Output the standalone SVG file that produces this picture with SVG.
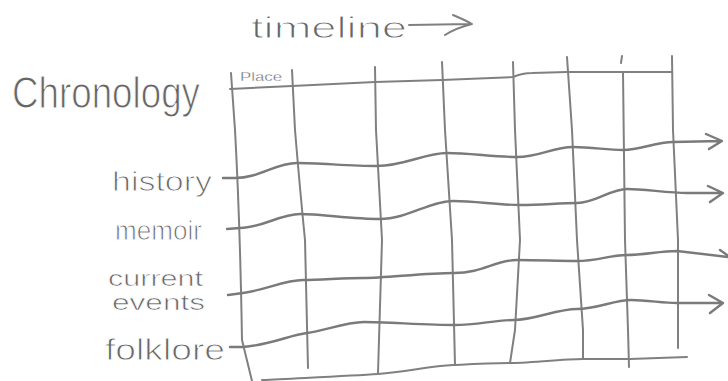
<svg xmlns="http://www.w3.org/2000/svg" width="728" height="381" viewBox="0 0 728 381">
  <style>
    .pen { fill: none; stroke: #808080; stroke-width: 2; stroke-linecap: round; stroke-linejoin: round; }
    .row { fill: none; stroke: #7a7a7a; stroke-width: 2.4; stroke-linecap: round; stroke-linejoin: round; }
    .lbl { font-family: "Liberation Sans", Arial, sans-serif; fill: #666666; stroke: #ffffff; stroke-width: 0.9; }
  </style>
  <rect width="728" height="381" fill="#ffffff"/>

  <g id="timeline-title">
    <text class="lbl" x="251" y="38" font-size="30" textLength="156" lengthAdjust="spacingAndGlyphs" style="stroke-width:1">timeline</text>
    <path class="pen" d="M409,25 L471,24 M453,15 Q465,20 472,24 Q456,28 445,35"/>
  </g>

  <g id="chronology-title">
    <text class="lbl" x="12" y="108" font-size="44" textLength="188" lengthAdjust="spacingAndGlyphs" style="stroke-width:1">Chronology</text>
  </g>

  <g id="grid">
    <text class="lbl" x="240" y="81" font-size="12" textLength="42" lengthAdjust="spacingAndGlyphs" style="stroke-width:0.3">Place</text>
    <path class="pen" d="M230,89 L292,86 L375,82 L442,80 L513,77 C520,74 525,73 532,73 L567,72 L672,72"/>
    <path class="pen" d="M231,73 L235,130 Q240,220 242,340 L252,381"/>
    <path class="pen" d="M292,70 L295,130 Q300,190 305,240 L308,368"/>
    <path class="pen" d="M375,67 L376,130 L382,240 L378,373"/>
    <path class="pen" d="M442,62 L445,130 L452,240 L455,365"/>
    <path class="pen" d="M513,62 L515,130 L520,240 L515,330 L510,363"/>
    <path class="pen" d="M567,57 L572,130 L577,240 L583,330 L583,358"/>
    <path class="pen" d="M622,56 L621,63 M623,72 L625,240 L628,330 L629,367"/>
    <path class="pen" d="M672,56 L673,130 L678,240 L678,348"/>
    <path class="pen" d="M262,380 C300,378 350,376 378,374 S430,366 453,365 S495,363 510,363 S565,359 583,359 L630,359 L687,357"/>
  </g>

  <g id="row-history">
    <text class="lbl" x="112" y="191" font-size="28" textLength="100" lengthAdjust="spacingAndGlyphs">history</text>
    <path class="row" d="M223,178 L235,178 C260,178 275,163 297,163 S350,166 377,166 S425,153 447,153 S495,157 517,157 S553,147 573,147 S606,150 623,150 S656,142 673,142 L721,141 M706,134 L722,141 L709,149"/>
  </g>

  <g id="row-memoir">
    <text class="lbl" x="115" y="240" font-size="27" textLength="87" lengthAdjust="spacingAndGlyphs">memoir</text>
    <path class="row" d="M227,229 L240,228 C262,228 280,214 300,214 S353,219 380,219 S430,201 453,201 S497,205 520,205 S558,203 577,203 S610,189 627,189 S668,193 687,193 L722,193 M708,186 L723,193 L710,202"/>
  </g>

  <g id="row-current-events">
    <text class="lbl" x="108" y="286" font-size="22" textLength="95" lengthAdjust="spacingAndGlyphs" style="stroke-width:0.6">current</text>
    <text class="lbl" x="112" y="310" font-size="22" textLength="93" lengthAdjust="spacingAndGlyphs" style="stroke-width:0.6">events</text>
    <path class="row" d="M228,295 L243,293 C265,290 285,280 303,280 S343,278 364,278 S425,273 454,273 S495,260 517,260 S557,261 577,261 S610,255 627,255 S660,251 677,251 L728,257 M720,250 L730,257"/>
  </g>

  <g id="row-folklore">
    <text class="lbl" x="105" y="360" font-size="30" textLength="120" lengthAdjust="spacingAndGlyphs">folklore</text>
    <path class="row" d="M230,347 L243,347 C270,345 290,335 307,333 S345,322 364,322 S430,325 454,325 S494,320 514,320 S557,309 577,309 S614,300 631,300 S662,303 677,303 L722,303 M709,295 L723,303 L710,313"/>
  </g>
</svg>
